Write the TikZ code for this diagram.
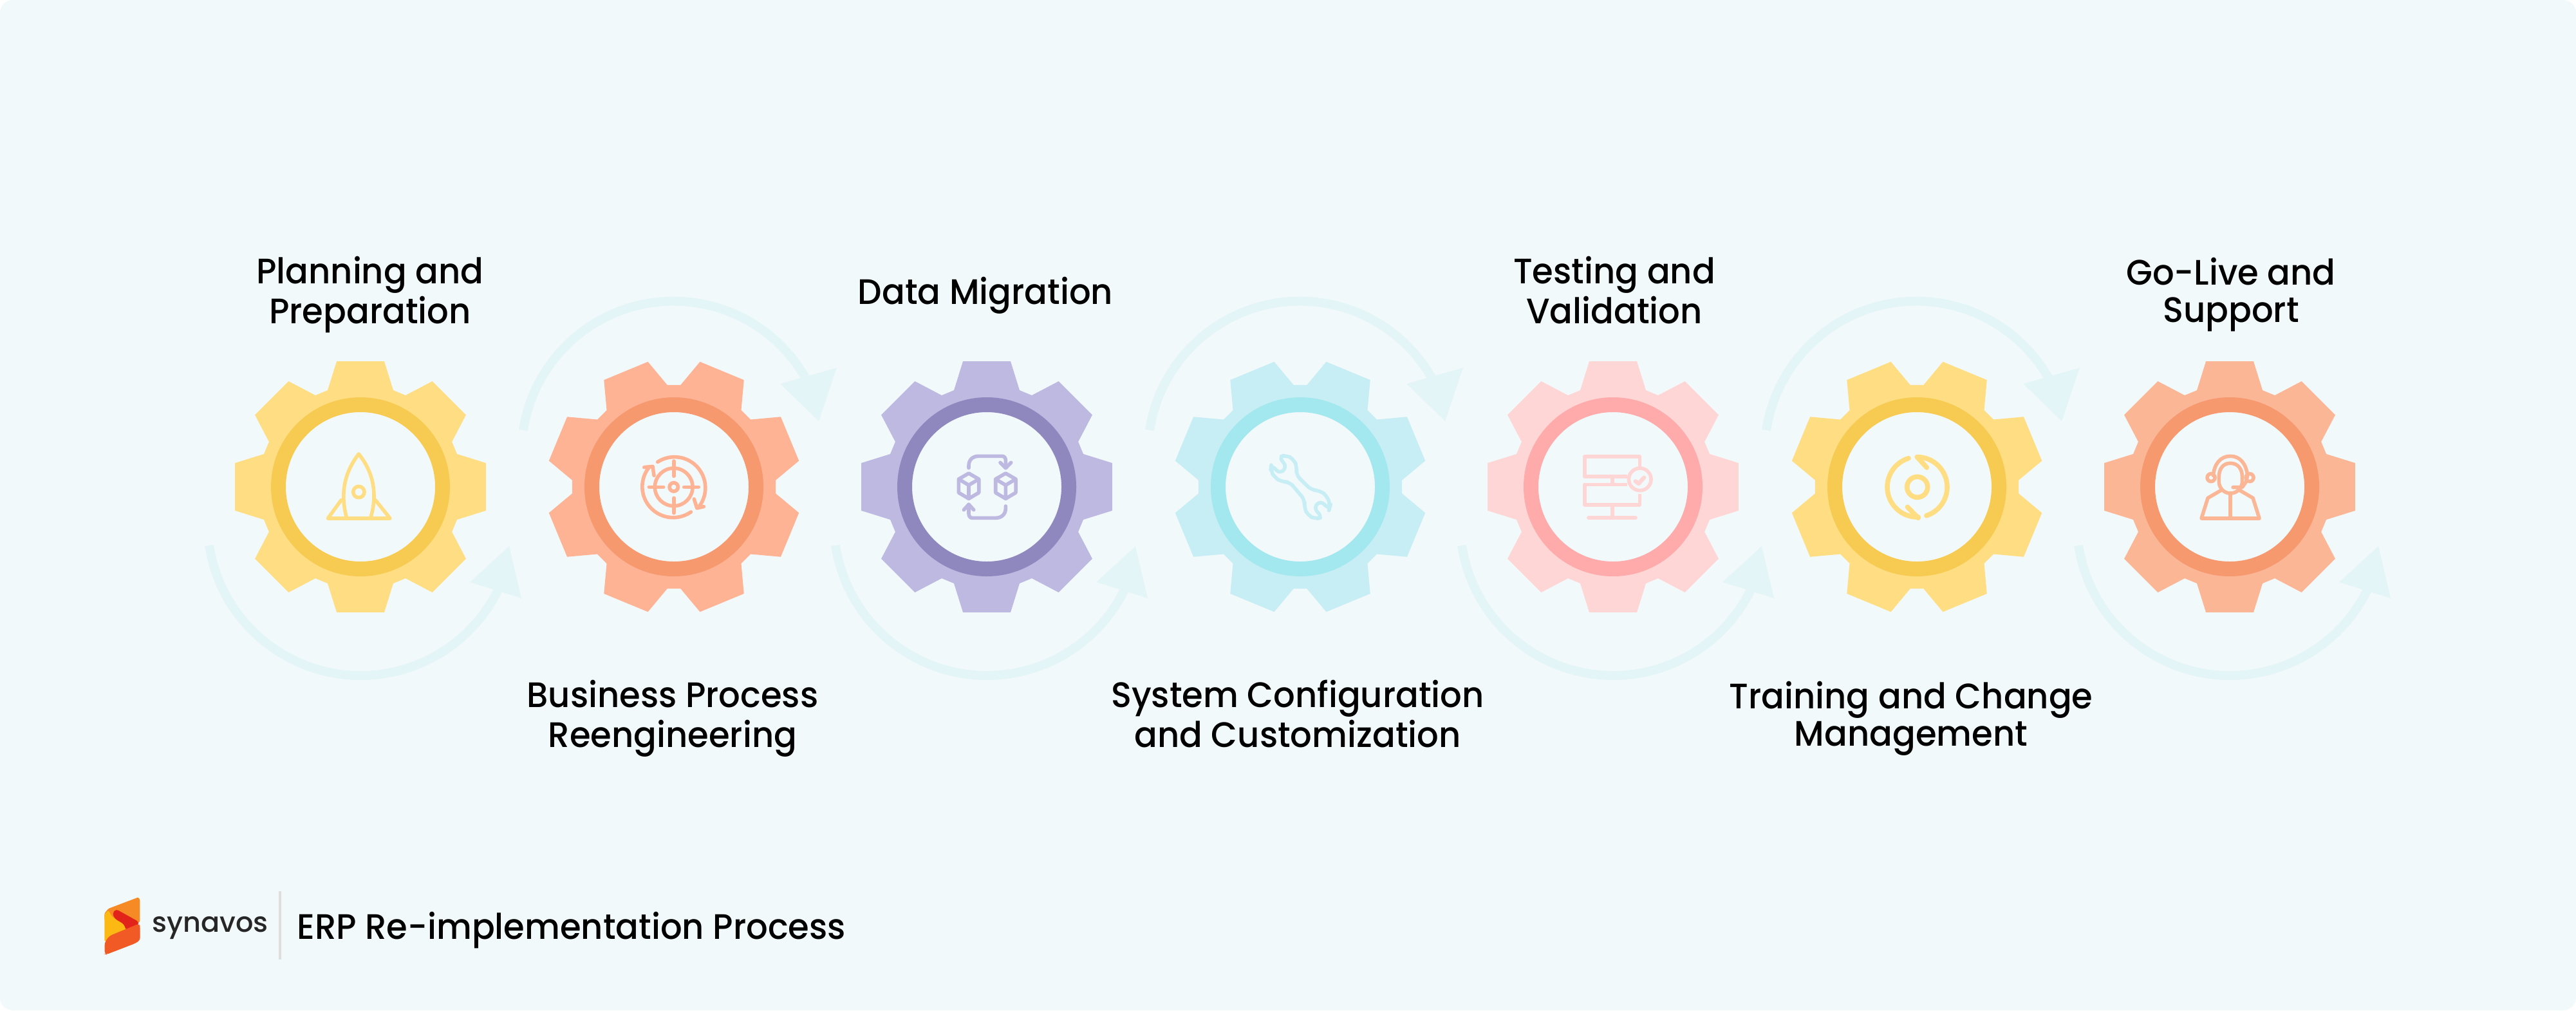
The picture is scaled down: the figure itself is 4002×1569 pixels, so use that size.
\documentclass[tikz,border=0pt]{standalone}
\usepackage{fontspec}
\setmainfont{Poppins}[UprightFont=* Medium,FakeStretch=0.96]
\newfontfamily\logofont{Poppins}[UprightFont=* Medium]
\definecolor{bgc}{HTML}{F2F9FB}
\definecolor{arcc}{HTML}{E4F5F8}
\definecolor{yelA}{HTML}{FFDD83}\definecolor{yelB}{HTML}{F7CB52}
\definecolor{oraA}{HTML}{FFB395}\definecolor{oraB}{HTML}{F7996F}
\definecolor{purA}{HTML}{BDB9E0}\definecolor{purB}{HTML}{8E88BE}
\definecolor{cyaA}{HTML}{C7EEF4}\definecolor{cyaB}{HTML}{A3E7EF}
\definecolor{pinA}{HTML}{FFD6D6}\definecolor{pinB}{HTML}{FFABAB}
\definecolor{peaA}{HTML}{FBB695}\definecolor{peaB}{HTML}{F7996F}
\definecolor{logoA}{HTML}{F68A24}\definecolor{logoB}{HTML}{FDB913}
\definecolor{logoC}{HTML}{E2231A}\definecolor{logoD}{HTML}{F15A24}
\tikzset{
 x=0.5pt,y=-0.5pt,
 lab/.style={align=center,font=\fontsize{27.5}{29}\selectfont,text=black,inner sep=0pt},
 ico/.style={line width=2.8pt,line cap=round,line join=round,fill=none},
 flow/.style={draw=arcc,line width=7pt,fill=none},
 tip/.style={fill=arcc,draw=none},
 zoomed/.style={x=0.1667pt,y=-0.1667pt},
}
% gear: #1 name, #2 cx, #3 rotation, #4 tooth colour, #5 ring colour
\newcommand{\gearshape}[5]{%
 \begin{scope}[shift={(#2,756)},rotate=#3]
  \fill[#4] (-108.78:158.4) \foreach \a in {0,45,...,315}{
    -- ({\a-90-18.78}:158.4) -- ({\a-90-10.74}:198.4) -- ({\a-90+10.74}:198.4) -- ({\a-90+18.78}:158.4) } -- cycle;
 \end{scope}
 \node[circle,fill=bgc,draw=#5,line width=11.5pt,minimum size=127.5pt,inner sep=0pt] (#1) at (#2,756) {};
}
\begin{document}
\begin{tikzpicture}
\useasboundingbox (0,0) rectangle (4002,1569);
\fill[white] (0,0) rectangle (4002,1569);
\fill[bgc,rounded corners=10pt] (0,0) rectangle (4002,1569);
% arcs
\foreach \n/\cx in {a/560,b/1533,c/2506,d/3464}{
 \coordinate (lowstart\n) at ({\cx-235},847);
 \draw[flow] (lowstart\n) arc[start angle=171.3,end angle=26,radius=238];
 \fill[tip] ({\cx+231},848)--({\cx+170},904)--({\cx+250},929)--cycle;
}
\foreach \n/\cx in {e/1047,f/2020,g/2978}{
 \coordinate (upstart\n) at ({\cx-234},668);
 \draw[flow] (upstart\n) arc[start angle=188.7,end angle=334,radius=236];
 \fill[tip] ({\cx+225},654)--({\cx+165},596)--({\cx+253},571)--cycle;
}
\gearshape{g1}{560}{0}{yelA}{yelB}
\gearshape{g2}{1047}{22.5}{oraA}{oraB}
\gearshape{g3}{1533}{0}{purA}{purB}
\gearshape{g4}{2020}{22.5}{cyaA}{cyaB}
\gearshape{g5}{2506}{0}{pinA}{pinB}
\gearshape{g6}{2978}{22.5}{yelA}{yelB}
\gearshape{g7}{3464}{0}{peaA}{peaB}
% labels
\node[lab] (t1) at (575,459) {\strut Planning and\\\strut Preparation};
\node[lab] (t2) at (1045,1117) {\strut Business Process\\\strut Reengineering};
\node[lab] (t3) at (1531,460) {\strut Data Migration};
\node[lab] (t4) at (2016,1117) {\strut System Configuration\\\strut and Customization};
\node[lab] (t5) at (2508,459) {\strut Testing and\\\strut Validation};
\node[lab] (t6) at (2969,1117) {\strut Training and Change\\\strut Management};
\node[lab] (t7) at (3466,459) {\strut Go-Live and\\\strut Support};
% rocket
\begin{scope}[shift={(450,660)},zoomed]
 \draw[ico,yelA] (265,430) .. controls (235,320) and (255,220) .. (322,135) .. controls (390,220) and (410,320) .. (378,430);
 \draw[ico,yelA] (322,312) circle[radius=26];
 \draw[ico,yelA] (240,350)--(178,435)--(468,435)--(400,350);
\end{scope}
% target
\begin{scope}[shift={(940,660)},zoomed]
 \draw[ico,oraA] (320,289) circle[radius=20];
 \draw[ico,oraA] (205,289)--(272,289) (368,289)--(436,289) (320,168)--(320,238) (320,340)--(320,410);
 \draw[ico,oraA] (320,289) circle[radius=88];
 \draw[ico,oraA] (245,172) arc[start angle=237,end angle=400,radius=144];
 \draw[ico,oraA] (415,345)--(428,387)--(460,380);
 \draw[ico,oraA] (400,405) arc[start angle=55,end angle=218,radius=144];
 \draw[ico,oraA] (182,197)--(222,193)--(228,235);
\end{scope}
% cubes
\begin{scope}[shift={(1430,660)},zoomed]
 \foreach \c in {225,397}{
  \draw[ico,purA,shift={(\c,0)}] (0,225)--(47,252)--(47,315)--(0,343)--(-47,315)--(-47,252)--cycle
   (-47,252)--(0,280)--(47,252) (0,280)--(0,343);
 }
 \draw[ico,purA] (225,200) -- (225,190) .. controls (225,160) and (245,145) .. (272,145) -- (380,145) .. controls (392,145) and (397,155) .. (397,165) -- (397,200);
 \draw[ico,purA] (372,175)--(397,200)--(422,175);
 \draw[ico,purA] (397,378) -- (397,388) .. controls (397,418) and (375,433) .. (350,433) -- (242,433) .. controls (230,433) and (225,423) .. (225,413) -- (225,370);
 \draw[ico,purA] (202,395)--(225,370)--(248,395);
\end{scope}
% wrench
\begin{scope}[shift={(1920,660)},zoomed]
 \draw[ico,cyaA,rounded corners=4pt] (200,148)--(235,140)--(270,160)--(285,195)--(280,232)--(352,303)--(390,305)--(425,330)--(440,375)--(435,393)--(395,352)--(362,385)--(403,430)--(370,438)--(335,420)--(318,385)--(322,350)--(250,265)--(215,265)--(180,245)--(162,210)--(165,185)--(205,228)--(238,195)--cycle;
\end{scope}
% server
\begin{scope}[shift={(2400,660)},zoomed]
 \draw[ico,pinA,line cap=butt] (385,240)--(185,240)--(185,147)--(442,147)--(442,200);
 \draw[ico,pinA,line cap=butt] (385,277)--(185,277)--(185,372)--(442,372)--(442,320);
 \draw[ico,pinA,line cap=butt] (315,240)--(315,277) (315,372)--(315,432);
 \draw[ico,pinA,line width=3.2pt] (205,432)--(422,432);
 \draw[ico,pinA] (443,253) circle[radius=52];
 \draw[ico,pinA,line width=3.2pt] (422,262)--(437,273)--(462,245);
\end{scope}
% refresh
\begin{scope}[shift={(2880,660)},zoomed]
 \draw[ico,yelA,line width=3.8pt] (296,289) circle[radius=48];
 \draw[ico,yelA,line width=3.8pt] (255,155) arc[start angle=253,end angle=88,radius=140];
 \draw[ico,yelA,line width=3.8pt] (295,149) arc[start angle=270,end angle=432,radius=140];
 \draw[ico,yelA,line width=3.8pt] (250,382)--(300,433);
 \draw[ico,yelA,line width=3.8pt] (295,149)--(340,198);
\end{scope}
% agent
\begin{scope}[shift={(3350,660)},zoomed]
 \draw[ico,peaA] (345,178) .. controls (310,178) and (292,205) .. (292,240) -- (292,270) .. controls (296,300) and (320,318) .. (345,318) .. controls (372,318) and (395,300) .. (400,270) -- (400,240) .. controls (400,205) and (380,178) .. (345,178) -- cycle;
 \draw[ico,peaA] (265,235) .. controls (270,180) and (300,145) .. (345,145) .. controls (390,145) and (418,180) .. (425,235) -- (418,265) -- (400,290) -- (357,290);
 \draw[ico,peaA] (255,245) circle[radius=18] (435,245) circle[radius=18];
 \draw[ico,peaA] (300,305)--(240,340)--(210,435)--(480,435)--(450,340)--(390,305);
 \draw[ico,peaA] (345,320)--(345,435);
\end{scope}
% logo
\begin{scope}[shift={(150,1385)},zoomed]
 \fill[logoA,rounded corners=1.2pt] (37,130)--(37,100)--(55,78)--(195,25)--(202,35)--(202,140)--(120,190)--(60,170)--cycle;
 \fill[logoB,rounded corners=1.2pt] (37,105)--(55,85)--(72,115)--(125,150)--(140,180)--(37,232)--cycle;
 \fill[logoC,rounded corners=2pt] (74,100)--(90,80)--(198,140)--(192,158)--(138,180)--(128,150)--(85,125)--cycle;
 \fill[logoD,rounded corners=2pt] (38,290)--(38,235)--(60,205)--(198,148)--(203,160)--(203,225)--(180,240)--(45,292)--cycle;
\end{scope}
\node[inner sep=0pt,anchor=base west,text=black!85,font=\logofont\fontsize{21.5}{22}\selectfont] (logotext) at (236,1447) {synavos};
\draw[line width=2pt,draw=black!13] (435,1384)--(435,1490);
\node[lab,anchor=base west] (title) at (461,1458) {ERP Re-implementation Process};
\end{tikzpicture}
\end{document}
